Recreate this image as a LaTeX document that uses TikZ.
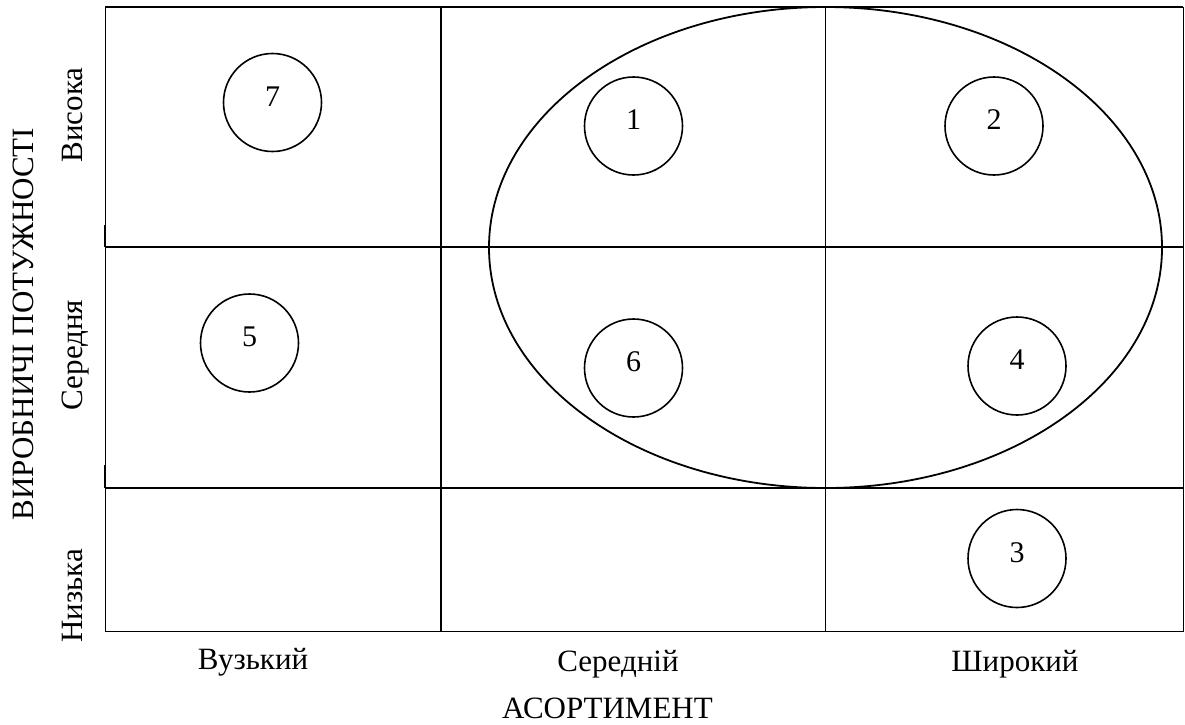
\documentclass[tikz,border=0pt]{standalone}
\usepackage{fontspec}
\setmainfont{Liberation Serif}
\begin{document}
\begin{tikzpicture}[x=1pt,y=-1pt,
  grid/.style={line width=1.4pt},
  tick/.style={line width=2.2pt},
  circ/.style={circle,draw,line width=1.6pt,minimum size=98pt,inner sep=0pt},
  num/.style={font=\fontsize{30}{34}\selectfont,inner sep=0pt},
  lbl/.style={font=\fontsize{31}{36}\selectfont,inner sep=0pt,anchor=base}]
\useasboundingbox (0,0) rectangle (1185,724);
% grid
\draw[line width=1pt] (105,7) -- (105,631.5);
\draw[grid] (105,7) -- (1183,7);
\draw[grid] (105,631.5) -- (1183,631.5);
\draw[line width=1pt] (1183,7) -- (1183,631.5);
\draw[grid] (105,247) -- (1183,247);
\draw[grid] (105,488) -- (1183,488);
\draw[grid] (441,7) -- (441,631.5);
\draw[grid] (825.5,7) -- (825.5,631.5);
\draw[tick] (105,225) -- (105,247);
\draw[tick] (105,465) -- (105,488);
% ellipse
\draw[line width=1.8pt] (825.5,247.5) ellipse [x radius=336.5, y radius=240.5];
% circles
\node[circ] (c7) at (272.5,102.5) {};
\node[num] at ([yshift=6pt]c7.center) {7};
\node[circ] (c1) at (633.5,126) {};
\node[num] at ([yshift=6pt]c1.center) {1};
\node[circ] (c2) at (994,126) {};
\node[num] at ([yshift=6pt]c2.center) {2};
\node[circ] (c5) at (249.5,343) {};
\node[num] at ([yshift=6pt]c5.center) {5};
\node[circ] (c6) at (633.5,368) {};
\node[num] at ([yshift=6pt]c6.center) {6};
\node[circ] (c4) at (1017,366) {};
\node[num] at ([yshift=6pt]c4.center) {4};
\node[circ] (c3) at (1017,558.5) {};
\node[num] at ([yshift=6pt]c3.center) {3};
% labels
\node[lbl] (lv) at (253,669.5) {Вузький};
\node[lbl] (lm) at (618,671.5) {Середній};
\node[lbl] (lw) at (1015,671.5) {Широкий};
\node[lbl] (la) at (607.5,718) {АСОРТИМЕНТ};
\node[lbl,rotate=90] (ly) at (33,324) {ВИРОБНИЧІ ПОТУЖНОСТІ};
\node[lbl,rotate=90] (lh) at (82,115) {Висока};
\node[lbl,rotate=90] (lmid) at (82,355) {Середня};
\node[lbl,rotate=90] (ll) at (82,596) {Низька};
\end{tikzpicture}
\end{document}
